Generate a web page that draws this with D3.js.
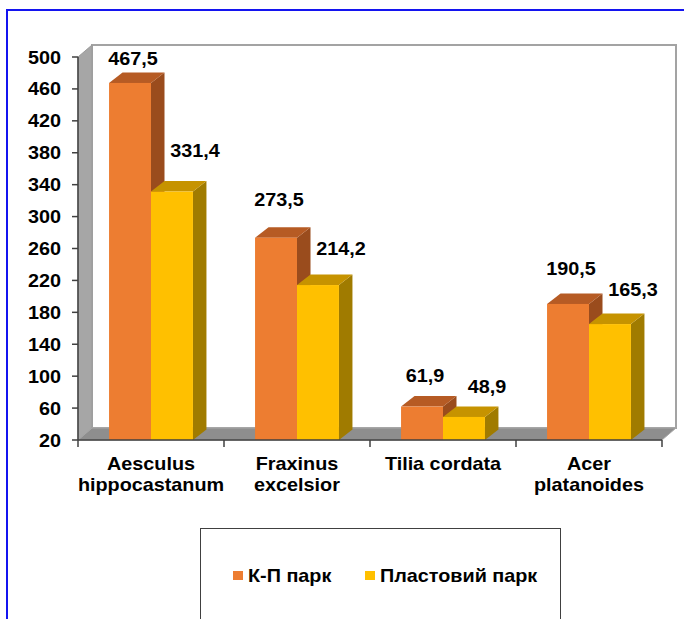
<!DOCTYPE html>
<html>
<head>
<meta charset="utf-8">
<script src="https://cdn.jsdelivr.net/npm/d3@7"></script>
<style>
  html, body { margin: 0; padding: 0; background: #fff; }
  svg { display: block; }
  text { font-family: "Liberation Sans", Arial, sans-serif; font-weight: bold; fill: #000; }
</style>
</head>
<body>
<svg id="chart" width="684" height="619"></svg>
<script>
// Species (two-line labels split by "\n")
const categories = ["Aesculus\nhippocastanum", "Fraxinus\nexcelsior", "Tilia cordata", "Acer\nplatanoides"];
const seriesNames = ["К-П парк", "Пластовий парк"];
const kpPark = [467.5, 273.5, 61.9, 190.5];
const plastovyiPark = [331.4, 214.2, 48.9, 165.3];
const yTicks = [20, 60, 100, 140, 180, 220, 260, 300, 340, 380, 420, 460, 500];

const seriesValues = [kpPark, plastovyiPark];
const palette = [
  { front: "#ED7D31", top: "#B65B24", side: "#9A4C1D" },
  { front: "#FFC000", top: "#C69300", side: "#A07B00" }
];

const svg = d3.select("#chart");
const W = 684, H = 619;

// plot frame (front plane)
const left = 78, right = 662, bottom = 440, topY = 57;
// wall depth
const wdx = 14, wdy = -12;
// bar depth
const bdx = 13.5, bdy = -10.5;
const stretch = 1.1;

const y = d3.scaleLinear().domain([20, 500]).range([bottom, topY]);
const x0 = d3.scaleBand().domain(categories).range([left, right]).padding(0);
const x1 = d3.scaleBand().domain(seriesNames).range([0, x0.bandwidth()])
  .paddingInner(0).paddingOuter(0.74);

function fmt(v) { return d3.format(".1f")(v).replace(".", ","); }

// draw stretched text anchored at (tx, ty)
function label(g, tx, ty, str, size, anchor) {
  return g.append("text")
    .attr("transform", `translate(${tx},${ty}) scale(${stretch},1)`)
    .attr("text-anchor", anchor || "middle")
    .style("font-size", size + "px")
    .text(str);
}

// outer blue frame
svg.append("path")
  .attr("d", `M7,${H + 2} L7,10 L${W + 2},10`)
  .attr("fill", "none").attr("stroke", "#1414F0").attr("stroke-width", 2);

// back wall
svg.append("rect")
  .attr("x", left + wdx).attr("y", topY + wdy)
  .attr("width", right - left).attr("height", bottom - topY)
  .attr("fill", "#fff").attr("stroke", "#a3a3a3").attr("stroke-width", 2);

// side wall
svg.append("path")
  .attr("d", `M${left},${topY} L${left + wdx},${topY + wdy} L${left + wdx},${bottom + wdy} L${left},${bottom} Z`)
  .attr("fill", "#a6a6a6").attr("stroke", "#9a9a9a").attr("stroke-width", 1);

// floor
svg.append("path")
  .attr("d", `M${left},${bottom} L${left + wdx},${bottom + wdy} L${right + wdx},${bottom + wdy} L${right},${bottom} Z`)
  .attr("fill", "#8e8e8e").attr("stroke", "#a8a8a8").attr("stroke-width", 1);

// bars
seriesNames.forEach((s, si) => {
  const c = palette[si];
  const g = svg.append("g");
  categories.forEach((cat, ci) => {
    const v = seriesValues[si][ci];
    const bx = x0(cat) + x1(s), bw = x1.bandwidth();
    const by = y(v), bb = y(20);
    // right side
    g.append("path")
      .attr("d", `M${bx + bw},${by} L${bx + bw + bdx},${by + bdy} L${bx + bw + bdx},${bb + bdy} L${bx + bw},${bb} Z`)
      .attr("fill", c.side);
    // top
    g.append("path")
      .attr("d", `M${bx},${by} L${bx + bdx},${by + bdy} L${bx + bw + bdx},${by + bdy} L${bx + bw},${by} Z`)
      .attr("fill", c.top);
    // front
    g.append("rect")
      .attr("x", bx).attr("y", by).attr("width", bw).attr("height", bb - by)
      .attr("fill", c.front);
  });
});

// value labels
const labelDx = [3, 23];
seriesNames.forEach((s, si) => {
  categories.forEach((cat, ci) => {
    const v = seriesValues[si][ci];
    const cx = x0(cat) + x1(s) + x1.bandwidth() / 2 + labelDx[si];
    const backTop = y(v) + bdy;
    const base = Math.max(65, backTop - (12 + 0.035 * v));
    label(svg, cx, base, fmt(v), 18);
  });
});

// y axis
svg.append("line").attr("x1", left).attr("x2", left).attr("y1", topY).attr("y2", bottom)
  .attr("stroke", "#404040").attr("stroke-width", 1.5);
yTicks.forEach(t => {
  svg.append("line").attr("x1", left - 6).attr("x2", left).attr("y1", y(t)).attr("y2", y(t))
    .attr("stroke", "#404040").attr("stroke-width", 1.5);
  label(svg, 61, y(t) + 6.5, String(t), 18, "end");
});

// x axis
svg.append("line").attr("x1", left).attr("x2", right).attr("y1", bottom).attr("y2", bottom)
  .attr("stroke", "#404040").attr("stroke-width", 1.5);
const bounds = categories.map(c => x0(c)).concat([right]);
bounds.forEach(bx => {
  svg.append("line").attr("x1", bx).attr("x2", bx).attr("y1", bottom).attr("y2", bottom + 7)
    .attr("stroke", "#404040").attr("stroke-width", 1.5);
});
categories.forEach(cat => {
  const cx = x0(cat) + x0.bandwidth() / 2;
  cat.split("\n").forEach((line, li) => {
    label(svg, cx, 470 + li * 21, line, 18);
  });
});

// legend
svg.append("rect").attr("x", 200.5).attr("y", 528.5).attr("width", 360).attr("height", 120)
  .attr("fill", "#fff").attr("stroke", "#404040").attr("stroke-width", 1);
const legendX = [233, 365];
seriesNames.forEach((s, si) => {
  svg.append("rect").attr("x", legendX[si]).attr("y", 571).attr("width", 10).attr("height", 9)
    .attr("fill", palette[si].front);
  label(svg, legendX[si] + 15, 582, s, 18, "start");
});
</script>
</body>
</html>
